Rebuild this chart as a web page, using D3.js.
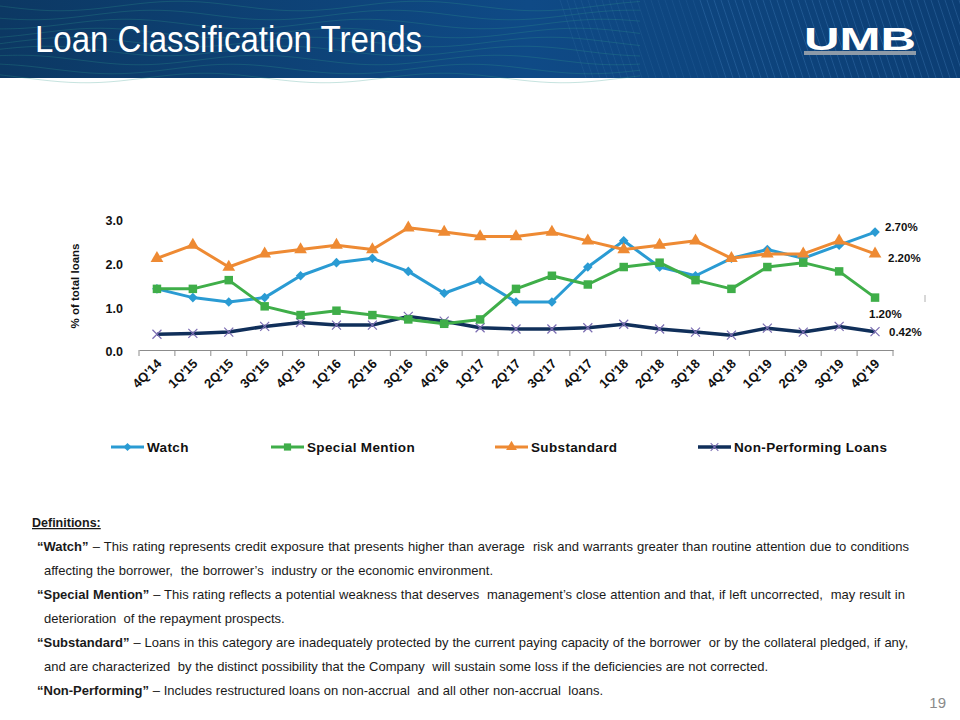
<!DOCTYPE html>
<html>
<head>
<meta charset="utf-8">
<script src="https://cdn.jsdelivr.net/npm/d3@7"></script>
<style>
  body { margin: 0; background: #fff; }
  svg { display: block; }
</style>
</head>
<body>
<div class="slide"></div>
<script>
// quarters on the x axis
var quarters = ["4Q'14", "1Q'15", "2Q'15", "3Q'15", "4Q'15", "1Q'16", "2Q'16", "3Q'16", "4Q'16",
  "1Q'17", "2Q'17", "3Q'17", "4Q'17", "1Q'18", "2Q'18", "3Q'18", "4Q'18",
  "1Q'19", "2Q'19", "3Q'19", "4Q'19"];

// % of total loans
var watch = [1.4, 1.2, 1.1, 1.2, 1.7, 2.0, 2.1, 1.8, 1.3, 1.6, 1.1, 1.1, 1.9, 2.5, 1.9, 1.7, 2.1, 2.3, 2.1, 2.4, 2.7];
var specialMention = [1.4, 1.4, 1.6, 1.0, 0.8, 0.9, 0.8, 0.7, 0.6, 0.7, 1.4, 1.7, 1.5, 1.9, 2.0, 1.6, 1.4, 1.9, 2.0, 1.8, 1.2];
var substandard = [2.1, 2.4, 1.9, 2.2, 2.3, 2.4, 2.3, 2.8, 2.7, 2.6, 2.6, 2.7, 2.5, 2.3, 2.4, 2.5, 2.1, 2.2, 2.2, 2.5, 2.2];
var nonPerforming = [0.36, 0.38, 0.41, 0.54, 0.63, 0.57, 0.57, 0.77, 0.66, 0.51, 0.48, 0.48, 0.51, 0.59, 0.48, 0.41, 0.34, 0.50, 0.41, 0.54, 0.42];

var yTicks = [0, 1, 2, 3];

// labels shown at the last quarter
var endLabels = ["2.70%", "1.20%", "2.20%", "0.42%"];

var seriesNames = ["Watch", "Special Mention", "Substandard", "Non-Performing Loans"];

var definitions = [
  [["“Watch”", true], [" – This rating represents credit exposure that presents higher than average  risk and warrants greater than routine attention due to conditions", false]],
  [["affecting the borrower,  the borrower’s  industry or the economic environment.", false]],
  [["“Special Mention”", true], [" – This rating reflects a potential weakness that deserves  management’s close attention and that, if left uncorrected,  may result in", false]],
  [["deterioration  of the repayment prospects.", false]],
  [["“Substandard”", true], [" – Loans in this category are inadequately protected by the current paying capacity of the borrower  or by the collateral pledged, if any,", false]],
  [["and are characterized  by the distinct possibility that the Company  will sustain some loss if the deficiencies are not corrected.", false]],
  [["“Non-Performing”", true], [" – Includes restructured loans on non-accrual  and all other non-accrual  loans.", false]]
];
// rendered width of each definition line on the slide
var defWidths = [872, 449, 868, 239, 871, 724, 566];

var W = 960, H = 720;
var svg = d3.select('.slide').append('svg')
  .attr('width', W)
  .attr('height', H);

//--- header band
var defs = svg.append('defs');
var grad = defs.append('linearGradient').attr('id', 'hdr');
grad.append('stop').attr('offset', '0%').attr('stop-color', '#0c3863');
grad.append('stop').attr('offset', '55%').attr('stop-color', '#0f4a86');
grad.append('stop').attr('offset', '100%').attr('stop-color', '#0c3e74');

var header = svg.append('g');
header.append('rect')
  .attr('width', W).attr('height', 78)
  .attr('fill', 'url(#hdr)');

// decorative waves on the left side of the band
var wave = d3.line().curve(d3.curveBasis);
for (var k = 0; k < 9; k++) {
  var pts = d3.range(0, 660, 20).map(function(px) {
    return [px, 6 + k * 9 + 5 * Math.sin(px / 38 + k * 0.7)];
  });
  header.append('path')
    .attr('d', wave(pts))
    .attr('fill', 'none')
    .attr('stroke', '#2f9a8a')
    .attr('stroke-opacity', 0.35)
    .attr('stroke-width', 0.8);
}
// decorative stripes on the right
d3.range(560, 990, 7).forEach(function(px) {
  header.append('line')
    .attr('x1', px).attr('y1', 0)
    .attr('x2', px + 26).attr('y2', 78)
    .attr('stroke', '#5b9bd8')
    .attr('stroke-opacity', px < 700 ? 0.15 : 0.3)
    .attr('stroke-width', 0.8);
});

header.append('text')
  .attr('x', 35).attr('y', 52)
  .attr('fill', '#fff')
  .attr('font-family', '"Liberation Sans Narrow", "Arial Narrow", "Liberation Sans", sans-serif')
  .attr('font-size', 36)
  .attr('textLength', 387)
  .attr('lengthAdjust', 'spacingAndGlyphs')
  .text('Loan Classification Trends');

header.append('text')
  .attr('x', 804).attr('y', 50)
  .attr('fill', '#fff')
  .attr('font-family', '"Liberation Sans", Arial, sans-serif')
  .attr('font-weight', 'bold')
  .attr('font-size', 31)
  .attr('textLength', 112)
  .attr('lengthAdjust', 'spacingAndGlyphs')
  .text('UMB');
header.append('rect')
  .attr('x', 804).attr('y', 51)
  .attr('width', 112).attr('height', 4)
  .attr('fill', '#8d9aa8');

//--- chart
var x = d3.scaleBand().domain(quarters).range([139, 893]);
var y = d3.scaleLinear().domain([0, 3]).range([350, 219]);
var cx = function(q) { return x(q) + x.bandwidth() / 2; };

var font = '"Liberation Sans", Arial, sans-serif';
var chart = svg.append('g').attr('font-family', font);

// x axis: line plus ticks at category edges
var xAxis = d3.axisBottom(x).tickSize(0).tickFormat('');
chart.append('g')
  .attr('transform', 'translate(0,350)')
  .call(xAxis)
  .call(function(g) { g.select('.domain').attr('stroke', '#8c8c8c'); });

chart.append('g').selectAll('line')
  .data(d3.range(quarters.length + 1))
  .enter().append('line')
  .attr('x1', function(i) { return 139 + i * x.step(); })
  .attr('x2', function(i) { return 139 + i * x.step(); })
  .attr('y1', 350).attr('y2', 356)
  .attr('stroke', '#8c8c8c');

chart.append('g').selectAll('text')
  .data(quarters)
  .enter().append('text')
  .attr('transform', function(q) { return 'translate(' + (cx(q) - 1) + ',358) rotate(-45)'; })
  .attr('text-anchor', 'end')
  .attr('dy', '0.7em')
  .attr('font-size', 13)
  .attr('font-weight', 'bold')
  .attr('fill', '#111')
  .text(function(q) { return q; });

// y axis labels only, no line
chart.append('g').selectAll('text')
  .data(yTicks)
  .enter().append('text')
  .attr('x', 123)
  .attr('y', function(v) { return y(v) + 2; })
  .attr('dy', '0.35em')
  .attr('text-anchor', 'end')
  .attr('font-size', 12.5)
  .attr('font-weight', 'bold')
  .attr('fill', '#111')
  .text(d3.format('.1f'));

chart.append('text')
  .attr('transform', 'translate(79,286) rotate(-90)')
  .attr('text-anchor', 'middle')
  .attr('font-size', 11.5)
  .attr('font-weight', 'bold')
  .attr('fill', '#111')
  .text('% of total loans');

// marker shapes
var markers = {
  diamond: function(g, c) {
    g.append('path').attr('d', d3.symbol(d3.symbolSquare, 46)()).attr('transform', 'rotate(45)').attr('fill', c);
  },
  square: function(g, c) {
    g.append('path').attr('d', d3.symbol(d3.symbolSquare, 72)()).attr('fill', c);
  },
  triangle: function(g, c) {
    g.append('path').attr('d', d3.symbol(d3.symbolTriangle, 70)()).attr('fill', c);
  },
  cross: function(g, c) {
    g.append('path').attr('d', 'M-4.5,-4.5L4.5,4.5M-4.5,4.5L4.5,-4.5')
      .attr('stroke', c).attr('stroke-width', 1.2).attr('fill', 'none');
  }
};

var series = [
  { name: seriesNames[0], values: watch, color: '#2a9bd3', marker: 'diamond', mcolor: '#2a9bd3', width: 3 },
  { name: seriesNames[1], values: specialMention, color: '#3fae49', marker: 'square', mcolor: '#3fae49', width: 3 },
  { name: seriesNames[2], values: substandard, color: '#ee8a33', marker: 'triangle', mcolor: '#ee8a33', width: 3 },
  { name: seriesNames[3], values: nonPerforming, color: '#102f5a', marker: 'cross', mcolor: '#7b6db2', width: 3.5 }
];

var line = d3.line()
  .x(function(d, i) { return cx(quarters[i]); })
  .y(function(d) { return y(d); });

// draw order: NPL first so coloured lines sit over it
[3, 0, 1, 2].forEach(function(si) {
  var s = series[si];
  var g = chart.append('g');
  g.append('path')
    .attr('d', line(s.values))
    .attr('fill', 'none')
    .attr('stroke', s.color)
    .attr('stroke-width', s.width)
    .attr('stroke-linejoin', 'round');
  s.values.forEach(function(v, i) {
    var m = g.append('g').attr('transform', 'translate(' + cx(quarters[i]) + ',' + y(v) + ')');
    markers[s.marker](m, s.mcolor);
  });
});

// labels at the last quarter
var labelPos = [[885, 227], [869, 314], [888, 258], [889, 332]];
chart.append('g').selectAll('text')
  .data(endLabels)
  .enter().append('text')
  .attr('x', function(d, i) { return labelPos[i][0]; })
  .attr('y', function(d, i) { return labelPos[i][1]; })
  .attr('dy', '0.35em')
  .attr('font-size', 11.5)
  .attr('font-weight', 'bold')
  .attr('fill', '#111')
  .text(function(d) { return d; });

chart.append('line')
  .attr('x1', 925).attr('x2', 925)
  .attr('y1', 295).attr('y2', 302)
  .attr('stroke', '#b0b0b0');

// legend
var legendX = [111, 271, 495, 698];
var legend = chart.append('g').selectAll('g')
  .data(series)
  .enter().append('g')
  .attr('transform', function(d, i) { return 'translate(' + legendX[i] + ',447)'; });
legend.append('line')
  .attr('x1', 0).attr('x2', 33)
  .attr('stroke', function(d) { return d.color; })
  .attr('stroke-width', function(d) { return d.width; });
legend.each(function(d) {
  var m = d3.select(this).append('g').attr('transform', 'translate(16.5,0) scale(0.85)');
  markers[d.marker](m, d.mcolor);
});
legend.append('text')
  .attr('x', 36)
  .attr('dy', '0.35em')
  .attr('font-size', 13.5)
  .attr('font-weight', 'bold')
  .attr('letter-spacing', 0.35)
  .attr('fill', '#111')
  .text(function(d) { return d.name; });

//--- definitions
var notes = svg.append('g').attr('font-family', font).attr('fill', '#1a1a1a');
notes.append('text')
  .attr('x', 32).attr('y', 527)
  .attr('font-size', 12.5)
  .attr('font-weight', 'bold')
  .attr('text-decoration', 'underline')
  .text('Definitions:');

var defLines = notes.selectAll('text.def')
  .data(definitions)
  .enter().append('text')
  .attr('class', 'def')
  .attr('x', function(d) { return d[0][1] ? 37 : 44; })
  .attr('y', function(d, i) { return 551 + i * 24; })
  .attr('font-size', 13)
  .attr('xml:space', 'preserve')
  .style('white-space', 'pre');
defLines.selectAll('tspan')
  .data(function(d) { return d; })
  .enter().append('tspan')
  .attr('font-weight', function(d) { return d[1] ? 'bold' : 'normal'; })
  .text(function(d) { return d[0]; });

// spread each line out to the slide's width through word spacing
defLines.each(function(d, i) {
  var natural = this.getComputedTextLength();
  var spaces = d.map(function(p) { return p[0]; }).join('').split(' ').length - 1;
  var extra = (defWidths[i] - natural) / Math.max(spaces, 1);
  d3.select(this).style('word-spacing', Math.max(extra, 0) + 'px');
});

svg.append('text')
  .attr('x', 946).attr('y', 708)
  .attr('text-anchor', 'end')
  .attr('font-family', font)
  .attr('font-size', 15)
  .attr('fill', '#8a8a8a')
  .text('19');
</script>
</body>
</html>
